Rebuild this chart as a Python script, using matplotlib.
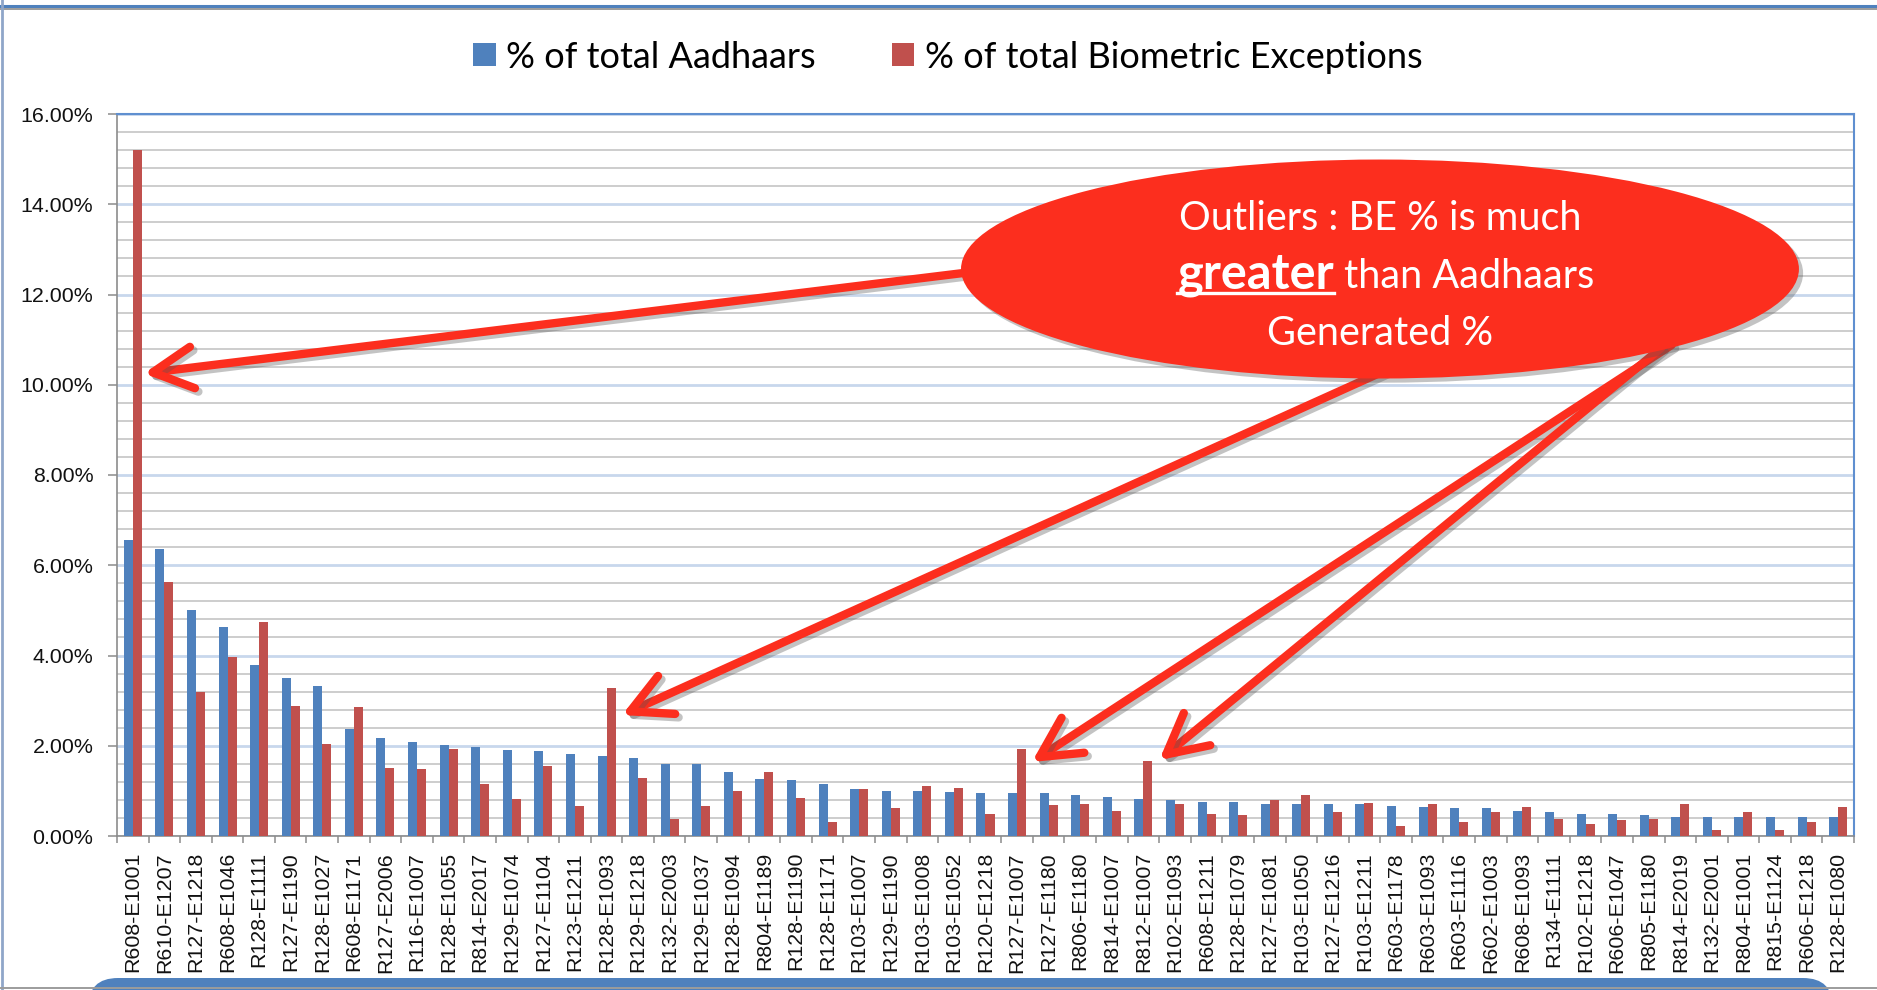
import matplotlib
matplotlib.use("Agg")
import matplotlib.pyplot as plt
import matplotlib.patheffects as pe
from matplotlib.patches import Ellipse, FancyBboxPatch
from matplotlib.lines import Line2D
from matplotlib.ticker import FixedLocator, MultipleLocator, FuncFormatter
import numpy as np

# region-enrolment agency codes, sorted by share of Aadhaars generated
codes = ["R608-E1001", "R610-E1207", "R127-E1218", "R608-E1046", "R128-E1111",
         "R127-E1190", "R128-E1027", "R608-E1171", "R127-E2006", "R116-E1007",
         "R128-E1055", "R814-E2017", "R129-E1074", "R127-E1104", "R123-E1211",
         "R128-E1093", "R129-E1218", "R132-E2003", "R129-E1037", "R128-E1094",
         "R804-E1189", "R128-E1190", "R128-E1171", "R103-E1007", "R129-E1190",
         "R103-E1008", "R103-E1052", "R120-E1218", "R127-E1007", "R127-E1180",
         "R806-E1180", "R814-E1007", "R812-E1007", "R102-E1093", "R608-E1211",
         "R128-E1079", "R127-E1081", "R103-E1050", "R127-E1216", "R103-E1211",
         "R603-E1178", "R603-E1093", "R603-E1116", "R602-E1003", "R608-E1093",
         "R134-E1111", "R102-E1218", "R606-E1047", "R805-E1180", "R814-E2019",
         "R132-E2001", "R804-E1001", "R815-E1124", "R606-E1218", "R128-E1080"]

aadhaar_pct = [6.57, 6.36, 5.01, 4.64, 3.80, 3.51, 3.33, 2.38, 2.17, 2.08,
               2.01, 1.98, 1.90, 1.88, 1.82, 1.77, 1.72, 1.59, 1.59, 1.42,
               1.27, 1.24, 1.15, 1.04, 1.00, 1.00, 0.98, 0.95, 0.95, 0.95,
               0.90, 0.87, 0.82, 0.80, 0.76, 0.76, 0.71, 0.71, 0.70, 0.70,
               0.66, 0.64, 0.61, 0.61, 0.56, 0.53, 0.48, 0.48, 0.46, 0.43,
               0.43, 0.43, 0.43, 0.43, 0.41]

be_pct = [15.20, 5.62, 3.19, 3.96, 4.74, 2.88, 2.03, 2.85, 1.50, 1.48,
          1.93, 1.16, 0.83, 1.56, 0.67, 3.29, 1.29, 0.38, 0.66, 1.00,
          1.42, 0.85, 0.30, 1.04, 0.61, 1.10, 1.06, 0.48, 1.93, 0.69,
          0.71, 0.56, 1.66, 0.71, 0.48, 0.46, 0.80, 0.90, 0.53, 0.74,
          0.22, 0.71, 0.32, 0.53, 0.64, 0.38, 0.27, 0.35, 0.38, 0.71,
          0.14, 0.53, 0.14, 0.32, 0.64]

# outliers pointed at by the callout: (code, x nudge, y on the bar)
outliers = [("R608-E1001", 0.35, 10.25), ("R128-E1093", 0.49, 2.68),
            ("R127-E1007", 0.47, 1.64), ("R812-E1007", 0.50, 1.68)]
# arrow tails inside the callout ellipse (axes fraction)
tails = [(0.505, 0.785), (0.735, 0.650), (0.895, 0.680), (0.889, 0.676)]

W, H, DPI = 1877, 990, 100
fig = plt.figure(figsize=(W / DPI, H / DPI), dpi=DPI)
ax = fig.add_axes([117 / W, 1 - 836 / H, (1854 - 117) / W, (836 - 114) / H])

x = np.arange(len(codes))
bw = 0.285
ax.bar(x - bw / 2, aadhaar_pct, bw, color="#4F81BD", label="% of total Aadhaars", zorder=3)
ax.bar(x + bw / 2, be_pct, bw, color="#C0504D", label="% of total Biometric Exceptions", zorder=3)

ax.set_xlim(-0.5, len(codes) - 0.5)
ax.set_ylim(0, 16)
ax.yaxis.set_major_locator(MultipleLocator(2))
ax.yaxis.set_minor_locator(MultipleLocator(0.4))
ax.yaxis.set_major_formatter(FuncFormatter(lambda v, p: f"{v:.2f}%"))
ax.grid(which="minor", axis="y", color="#C0C0C0", lw=1.1)
ax.grid(which="major", axis="y", color="#C8D7EC", lw=2.0)
ax.set_axisbelow(True)

tick_size = 15.4
ax.set_xticks(x)
ax.set_xticklabels(codes, rotation=90, fontfamily="Liberation Sans", fontsize=tick_size, color="#111111")
ax.xaxis.set_minor_locator(FixedLocator(np.arange(-0.5, len(codes), 1)))
ax.tick_params(axis="x", which="major", length=0, pad=11.5)
ax.tick_params(axis="x", which="minor", length=5, color="#8C8C8C", width=1.1)
ax.tick_params(axis="y", which="major", length=6.5, color="#8C8C8C", width=1.1, pad=10.5)
ax.tick_params(axis="y", which="minor", length=0)
for lab in ax.get_yticklabels():
    lab.set_fontfamily("Liberation Sans")
    lab.set_fontsize(tick_size)
    lab.set_color("#111111")

for s in ["left", "bottom"]:
    ax.spines[s].set_color("#8C8C8C")
    ax.spines[s].set_linewidth(1.2)
for s in ["top", "right"]:
    ax.spines[s].set_color("#5F8FD0")
    ax.spines[s].set_linewidth(1.5)

fig.legend(loc="center", bbox_to_anchor=(948 / W, 1 - 57 / H), ncol=2, frameon=False,
           prop={"family": "Lato", "size": 26}, handlelength=0.62, handleheight=0.62,
           handletextpad=0.3, columnspacing=2.1)

# callout
red = "#FC2E1E"
ell = Ellipse((0.7271, 0.7853), 0.4824, 0.3033, transform=ax.transAxes,
              facecolor=red, edgecolor="none", zorder=6, clip_on=False)
ell.set_path_effects([pe.SimplePatchShadow(offset=(3, -3), shadow_rgbFace="#555555", alpha=0.35),
                      pe.Normal()])
ax.add_patch(ell)

for (code, dx, yv), (tx, ty) in zip(outliers, tails):
    i = codes.index(code)
    ann = ax.annotate("", xy=(i + dx, yv), xycoords="data", xytext=(tx, ty),
                      textcoords="axes fraction", zorder=5,
                      arrowprops=dict(arrowstyle="->,head_length=1.15,head_width=0.6",
                                      mutation_scale=25, lw=6, color=red,
                                      shrinkA=0, shrinkB=0, capstyle="round",
                                      joinstyle="round"))
    ann.arrow_patch.set_path_effects([pe.SimpleLineShadow(offset=(2.5, -2.5), shadow_color="#555555",
                                                          alpha=0.35), pe.Normal()])

tfont = {"family": "Lato", "color": "white", "zorder": 7}
ax.text(0.7271, 0.8393, "Outliers : BE % is much", transform=ax.transAxes,
        ha="center", va="baseline", fontsize=28.5, **tfont)
g = ax.text(0.7006, 0.7590, "greater", transform=ax.transAxes, ha="right",
            va="baseline", fontsize=35, fontweight="bold", **tfont)
ax.text(0.7064, 0.7590, "than Aadhaars", transform=ax.transAxes, ha="left",
        va="baseline", fontsize=28.5, **tfont)
ax.text(0.7271, 0.6801, "Generated %", transform=ax.transAxes,
        ha="center", va="baseline", fontsize=28.5, **tfont)

fig.canvas.draw()
bb = g.get_window_extent().transformed(ax.transAxes.inverted())
ax.add_line(Line2D([bb.x0, bb.x1], [0.7521, 0.7521], transform=ax.transAxes,
                   color="white", lw=2.4, zorder=7, clip_on=False))

# outer chart frame and the shape peeking in at the bottom
px = fig.dpi_scale_trans
fig.add_artist(Line2D([0, W / DPI], [(H - 6) / DPI] * 2, transform=px, color="#4F81BD", lw=2.2))
fig.add_artist(Line2D([0, W / DPI], [(H - 9) / DPI] * 2, transform=px, color="#9C9C9C", lw=1.4))
fig.add_artist(Line2D([2 / DPI] * 2, [0, H / DPI], transform=px, color="#8FA6C9", lw=2.0))
fig.add_artist(Line2D([0, W / DPI], [2 / DPI] * 2, transform=px, color="#9C9C9C", lw=1.4))
fig.add_artist(FancyBboxPatch((88 / DPI, -0.5), 1745 / DPI, 0.5 + 12 / DPI,
                              boxstyle="round,pad=0,rounding_size=0.3", transform=px,
                              facecolor="#4F81BD", edgecolor="none"))

fig.savefig("out.png", dpi=DPI, facecolor="white")
